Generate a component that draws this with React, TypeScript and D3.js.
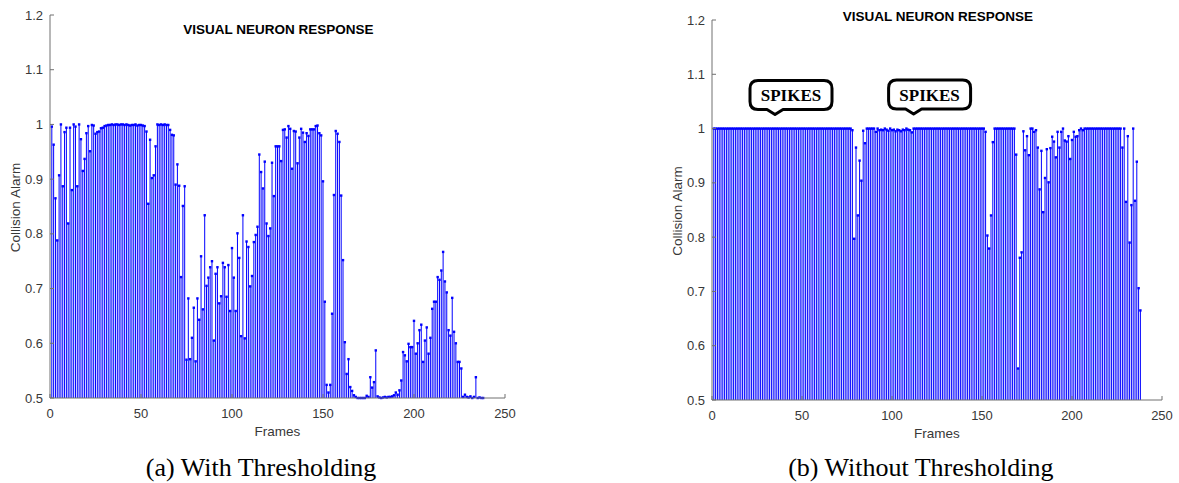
import React from 'react';
import * as d3 from 'd3';

// frames 1..238 (with thresholding)
const withThresholding = [
  0.996, 0.963, 0.865, 0.788, 0.907, 1.0, 0.887, 0.986, 0.994, 0.819,
  0.994, 0.88, 1.0, 0.996, 0.887, 1.0, 0.973, 0.915, 0.937, 0.984,
  0.997, 0.951, 0.999, 0.998, 0.983, 0.986, 0.987, 0.993, 0.994, 0.997,
  0.998, 0.999, 0.999, 1.0, 0.999, 1.0, 1.0, 0.999, 1.0, 1.0,
  0.999, 1.0, 0.999, 0.998, 0.999, 0.999, 1.0, 0.998, 0.999, 0.999,
  0.998, 0.997, 0.987, 0.855, 0.972, 0.902, 0.907, 0.96, 1.0, 0.999,
  1.0, 0.999, 1.0, 0.999, 0.999, 0.99, 0.981, 0.98, 0.89, 0.927,
  0.888, 0.721, 0.851, 0.887, 0.57, 0.682, 0.571, 0.61, 0.665, 0.567,
  0.682, 0.643, 0.759, 0.662, 0.834, 0.705, 0.72, 0.739, 0.75, 0.605,
  0.727, 0.739, 0.673, 0.686, 0.747, 0.739, 0.685, 0.743, 0.659, 0.774,
  0.72, 0.659, 0.801, 0.756, 0.613, 0.834, 0.609, 0.786, 0.776, 0.704,
  0.723, 0.785, 0.798, 0.813, 0.945, 0.913, 0.883, 0.932, 0.819, 0.796,
  0.81, 0.93, 0.869, 0.96, 0.96, 0.96, 0.933, 0.99, 0.991, 0.976,
  0.997, 0.992, 0.919, 0.988, 0.987, 0.929, 0.976, 0.992, 0.985, 0.968,
  0.984, 0.979, 0.991, 0.991, 0.991, 0.997, 0.998, 0.984, 0.98, 0.896,
  0.676, 0.524, 0.51, 0.524, 0.654, 0.871, 0.988, 0.983, 0.968, 0.87,
  0.752, 0.602, 0.544, 0.571, 0.52, 0.513, 0.505, 0.502, 0.5, 0.5,
  0.5, 0.5, 0.5, 0.504, 0.502, 0.538, 0.519, 0.529, 0.587, 0.503,
  0.501, 0.5, 0.501, 0.502, 0.501, 0.502, 0.502, 0.503, 0.505, 0.51,
  0.506, 0.514, 0.532, 0.584, 0.578, 0.567, 0.599, 0.593, 0.593, 0.641,
  0.581, 0.6, 0.624, 0.634, 0.566, 0.605, 0.629, 0.581, 0.61, 0.663,
  0.676, 0.676, 0.721, 0.716, 0.733, 0.767, 0.713, 0.693, 0.624, 0.614,
  0.683, 0.621, 0.6, 0.566, 0.566, 0.554, 0.502, 0.506, 0.502, 0.501,
  0.503, 0.5, 0.502, 0.538, 0.5, 0.501, 0.5, 0.5,
];

// frames 1..238, right panel (without thresholding)
const withoutThresholding = [
  1, 1, 1, 1, 1, 1, 1, 1, 1, 1,
  1, 1, 1, 1, 1, 1, 1, 1, 1, 1,
  1, 1, 1, 1, 1, 1, 1, 1, 1, 1,
  1, 1, 1, 1, 1, 1, 1, 1, 1, 1,
  1, 1, 1, 1, 1, 1, 1, 1, 1, 1,
  1, 1, 1, 1, 1, 1, 1, 1, 1, 1,
  1, 1, 1, 1, 1, 1, 1, 1, 1, 1,
  1, 1, 1, 1, 1, 1, 1, 0.997, 0.797, 0.965,
  0.84, 0.941, 0.904, 0.996, 0.973, 1, 1, 1, 1, 1,
  0.994, 1, 0.997, 0.998, 0.997, 1, 0.998, 0.996, 1, 0.997,
  0.998, 0.995, 0.998, 0.997, 0.995, 0.998, 0.997, 1, 0.998, 0.997,
  0.993, 1, 1, 1, 1, 1, 1, 1, 1, 1,
  1, 1, 1, 1, 1, 1, 1, 1, 1, 1,
  1, 1, 1, 1, 1, 1, 1, 1, 1, 1,
  1, 1, 1, 1, 1, 1, 1, 1, 1, 1,
  1, 0.994, 0.803, 0.779, 0.84, 0.975, 1, 1, 1, 1,
  1, 1, 1, 1, 1, 1, 1, 1, 0.952, 0.558,
  0.762, 0.772, 0.995, 0.96, 0.986, 0.951, 1, 1, 0.994, 0.997,
  0.965, 0.888, 0.959, 0.846, 0.909, 0.962, 0.901, 0.964, 0.985, 0.976,
  0.947, 0.994, 0.965, 0.994, 1, 0.978, 0.976, 0.986, 0.944, 0.979,
  0.994, 0.985, 0.986, 0.997, 1, 0.997, 1, 1, 1, 1,
  1, 1, 1, 1, 1, 1, 1, 1, 1, 1,
  1, 1, 1, 1, 1, 1, 1, 0.965, 1, 0.865,
  0.986, 0.79, 0.859, 1, 0.867, 0.939, 0.706, 0.665,
];

const xTicks = [0, 50, 100, 150, 200, 250];
const yTicks = [0.5, 0.6, 0.7, 0.8, 0.9, 1, 1.1, 1.2];
const spikeLabels = [
  { frame: 35, value: 1.026, text: 'SPIKES' },
  { frame: 112, value: 1.027, text: 'SPIKES' },
];

const sans = '"Liberation Sans", Arial, sans-serif';
const serif = '"Liberation Serif", "Times New Roman", serif';
const axisColor = '#707070';
const textColor = '#383838';
const stemColor = '#0000ff';

function Callout({ x, y, text }) {
  // x, y = tip of the pointer
  const left = x - 25, right = left + 82, bottom = y - 5, top = bottom - 29, r = 8;
  const d = `M${left + r},${top} H${right - r} Q${right},${top} ${right},${top + r}
    V${bottom - r} Q${right},${bottom} ${right - r},${bottom}
    H${x + 8} L${x},${y} L${x - 8},${bottom}
    H${left + r} Q${left},${bottom} ${left},${bottom - r}
    V${top + r} Q${left},${top} ${left + r},${top} Z`;
  return (
    <g>
      <path d={d} fill="#fff" stroke="#000" strokeWidth={3} strokeLinejoin="round" />
      <text x={(left + right) / 2} y={top + 21} textAnchor="middle"
        fontFamily={serif} fontWeight="bold" fontSize={17} fill="#000">{text}</text>
    </g>
  );
}

function StemPanel({ data, xRange, yRange, titleY, caption, callouts }) {
  const x = d3.scaleLinear().domain([0, 250]).range(xRange);
  const y = d3.scaleLinear().domain([0.5, 1.2]).range(yRange);
  const [x0, x1] = xRange;
  const y0 = yRange[0];
  const cx = (x0 + x1) / 2;

  return (
    <g>
      {/* stems */}
      {data.map((v, i) => (
        <line key={'s' + i} x1={x(i + 1)} x2={x(i + 1)} y1={y(0.5)} y2={y(v)}
          stroke={stemColor} strokeWidth={1} />
      ))}
      {data.map((v, i) => (
        <rect key={'m' + i} x={x(i + 1) - 1.2} y={y(v) - 1.2} width={2.4} height={2.4} fill={stemColor} />
      ))}

      {/* axes */}
      <line x1={x0} x2={x0} y1={y(0.5)} y2={y(1.2)} stroke={axisColor} strokeWidth={1} />
      <line x1={x0} x2={x1} y1={y0} y2={y0} stroke={axisColor} strokeWidth={1} />
      {yTicks.map(t => (
        <g key={'y' + t}>
          <line x1={x0} x2={x0 + 4} y1={y(t)} y2={y(t)} stroke={axisColor} />
          <text x={x0 - 7} y={y(t) + 4.5} textAnchor="end" fontFamily={sans} fontSize={13} fill={textColor}>
            {d3.format('~g')(t)}
          </text>
        </g>
      ))}
      {xTicks.map(t => (
        <g key={'x' + t}>
          <line x1={x(t)} x2={x(t)} y1={y0} y2={y0 - 4} stroke={axisColor} />
          <text x={x(t)} y={y0 + 19.5} textAnchor="middle" fontFamily={sans} fontSize={13} fill={textColor}>
            {t}
          </text>
        </g>
      ))}

      <text x={cx} y={y0 + 38} textAnchor="middle" fontFamily={sans} fontSize={13.5} fill={textColor}>Frames</text>
      <text transform={`translate(${x0 - 30},${(y(0.5) + y(1.2)) / 2 + 1}) rotate(-90)`} textAnchor="middle"
        fontFamily={sans} fontSize={13.5} fill={textColor}>Collision Alarm</text>
      <text x={cx + 1} y={titleY} textAnchor="middle" fontFamily={sans} fontWeight="bold" fontSize={13.5} fill="#000">
        VISUAL NEURON RESPONSE
      </text>

      {callouts.map((c, i) => (
        <Callout key={'c' + i} x={x(c.frame)} y={y(c.value)} text={c.text} />
      ))}

      <text x={x(116)} y={476} textAnchor="middle" fontFamily={serif} fontSize={26} fill="#000">{caption}</text>
    </g>
  );
}

export default function App() {
  return (
    <svg width={1179} height={483} style={{ position: 'absolute', left: 0, top: 0, background: '#fff' }}>
      <rect width={1179} height={483} fill="#fff" />
      <StemPanel data={withThresholding} xRange={[50, 505]} yRange={[398, 15]} titleY={34}
        caption="(a) With Thresholding" callouts={[]} />
      <StemPanel data={withoutThresholding} xRange={[712, 1162]} yRange={[400, 20]} titleY={21}
        caption="(b) Without Thresholding" callouts={spikeLabels} />
    </svg>
  );
}
